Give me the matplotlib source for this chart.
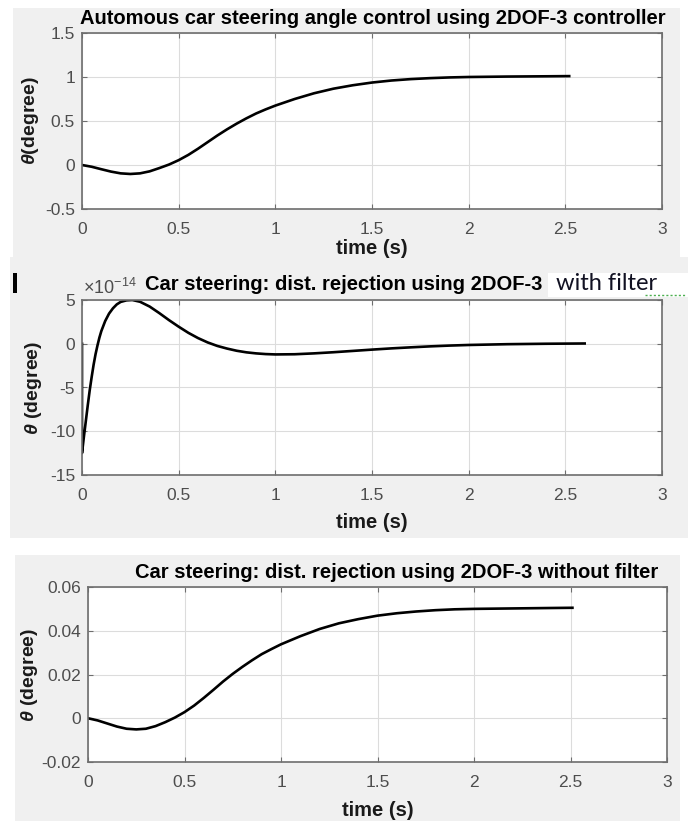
import matplotlib
matplotlib.use("Agg")
import matplotlib.pyplot as plt
from matplotlib.patches import Rectangle
from matplotlib.lines import Line2D

plt.rcParams["font.family"] = ["Liberation Sans", "DejaVu Sans"]
plt.rcParams["mathtext.fontset"] = "custom"
plt.rcParams["mathtext.rm"] = "Liberation Sans"
plt.rcParams["mathtext.it"] = "Liberation Sans:italic:bold"
plt.rcParams["axes.unicode_minus"] = False

# ---- data ----
time_ticks = [0, 0.5, 1, 1.5, 2, 2.5, 3]
time_ticklabels = ["0", "0.5", "1", "1.5", "2", "2.5", "3"]

# panel 1: steering angle step response
t1 = [0, 0.05, 0.1, 0.15, 0.2, 0.25, 0.3, 0.35, 0.4, 0.45, 0.5, 0.55, 0.6, 0.65,
      0.7, 0.75, 0.8, 0.85, 0.9, 0.95, 1.0, 1.1, 1.2, 1.3, 1.4, 1.5, 1.6, 1.7, 1.8,
      1.9, 2.0, 2.2, 2.4, 2.52]
theta1 = [0, -0.02, -0.048, -0.075, -0.095, -0.102, -0.095, -0.072, -0.035, 0.005,
          0.055, 0.115, 0.185, 0.26, 0.335, 0.405, 0.47, 0.53, 0.585, 0.632, 0.675,
          0.75, 0.815, 0.867, 0.906, 0.937, 0.96, 0.976, 0.987, 0.995, 1.0, 1.005,
          1.008, 1.01]
y1_ticks = [-0.5, 0, 0.5, 1, 1.5]
y1_ticklabels = ["-0.5", "0", "0.5", "1", "1.5"]

# panel 2: disturbance rejection with filter (units of 1e-14)
t2 = [0, 0, 0.01, 0.02, 0.03, 0.04, 0.05, 0.06, 0.07, 0.08, 0.09, 0.1, 0.12, 0.14,
      0.16, 0.18, 0.2, 0.23, 0.26, 0.3, 0.35, 0.4, 0.45, 0.5, 0.55, 0.6, 0.65, 0.7,
      0.75, 0.8, 0.85, 0.9, 0.95, 1.0, 1.1, 1.2, 1.3, 1.4, 1.5, 1.6, 1.7, 1.8, 1.9,
      2.0, 2.2, 2.4, 2.6]
theta2 = [0, -12.5, -10.6, -8.8, -7.0, -5.3, -3.8, -2.4, -1.2, -0.2, 0.7, 1.45, 2.6,
          3.45, 4.05, 4.5, 4.78, 4.96, 5.0, 4.8, 4.25, 3.5, 2.7, 1.95, 1.25, 0.65,
          0.15, -0.25, -0.55, -0.8, -0.98, -1.1, -1.18, -1.22, -1.2, -1.1, -0.97,
          -0.82, -0.67, -0.53, -0.41, -0.3, -0.21, -0.14, -0.05, 0.0, 0.03]
y2_ticks = [-15, -10, -5, 0, 5]
y2_ticklabels = ["-15", "-10", "-5", "0", "5"]

# panel 3: disturbance rejection without filter
t3 = [0, 0.05, 0.1, 0.15, 0.2, 0.25, 0.3, 0.35, 0.4, 0.45, 0.5, 0.55, 0.6, 0.65,
      0.7, 0.75, 0.8, 0.85, 0.9, 0.95, 1.0, 1.1, 1.2, 1.3, 1.4, 1.5, 1.6, 1.7, 1.8,
      1.9, 2.0, 2.2, 2.4, 2.51]
theta3 = [0.0, -0.001, -0.0024, -0.0038, -0.0048, -0.0051, -0.0048, -0.0036,
          -0.0018, 0.0003, 0.0028, 0.0058, 0.0093, 0.013, 0.0168, 0.0203, 0.0235,
          0.0265, 0.0293, 0.0316, 0.0338, 0.0375, 0.0408, 0.0434, 0.0453, 0.0469,
          0.048, 0.0488, 0.0494, 0.0498, 0.05, 0.0502, 0.0504, 0.0505]
y3_ticks = [-0.02, 0, 0.02, 0.04, 0.06]
y3_ticklabels = ["-0.02", "0", "0.02", "0.04", "0.06"]

W, H = 688, 821
GRAY = "#f0f0f0"
TICKC = "#4d4d4d"
TXTC = "#1a1a1a"

fig = plt.figure(figsize=(W / 100, H / 100), dpi=100)


def fx(x):
    return x / W


def fy(y):
    return 1 - y / H


def box(x0, y0, x1, y1, color=GRAY, z=-1):
    fig.patches.append(Rectangle((fx(x0), fy(y1)), (x1 - x0) / W, (y1 - y0) / H,
                                 transform=fig.transFigure, facecolor=color,
                                 edgecolor="none", zorder=z))


box(13, 8, 680, 257)
box(10, 257, 688, 538)
box(15, 555, 680, 821)


def make_axes(left, top, right, bottom, t, y, yticks, yticklabels):
    ax = fig.add_axes([fx(left), fy(bottom), (right - left) / W, (bottom - top) / H])
    ax.plot(t, y, color="black", lw=1.9, solid_joinstyle="round")
    ax.set_xlim(0, 3)
    ax.set_ylim(yticks[0], yticks[-1])
    ax.set_xticks(time_ticks)
    ax.set_xticklabels(time_ticklabels)
    ax.set_yticks(yticks)
    ax.set_yticklabels(yticklabels)
    ax.grid(True, color="#dcdcdc", lw=0.8)
    ax.set_axisbelow(True)
    for s in ax.spines.values():
        s.set_color("#6e6e6e")
        s.set_linewidth(1.2)
    ax.tick_params(direction="in", length=3.5, width=0.8, color="#6e6e6e",
                   top=True, right=True, labelsize=12.5, labelcolor=TICKC)
    ax.tick_params(axis="x", pad=9)
    ax.tick_params(axis="y", pad=5)
    return ax


ax1 = make_axes(82, 33, 662, 209, t1, theta1, y1_ticks, y1_ticklabels)
ax2 = make_axes(82, 300, 662, 475, t2, theta2, y2_ticks, y2_ticklabels)
ax3 = make_axes(88, 587, 667, 762, t3, theta3, y3_ticks, y3_ticklabels)

# titles
fig.text(fx(373), fy(18), "Automous car steering angle control using 2DOF-3 controller",
         ha="center", va="center", fontsize=14.5, fontweight="bold", color="black")
fig.text(fx(145), fy(285), "Car steering: dist. rejection using 2DOF-3",
         ha="left", va="center", fontsize=14.5, fontweight="bold", color="black")
fig.text(fx(83), fy(288), r"$\times10^{-14}$", ha="left", va="center",
         fontsize=13, color=TICKC)
fig.text(fx(397), fy(572), "Car steering: dist. rejection using 2DOF-3 without filter",
         ha="center", va="center", fontsize=14.5, fontweight="bold", color="black")

# pasted "with filter" patch
box(548, 273, 688, 297, color="white", z=2)
fig.text(fx(556), fy(284), "with filter", ha="left", va="center", fontsize=17,
         family=["Lato", "DejaVu Sans"], color="#111122", zorder=3)
fig.lines.append(Line2D([fx(645), fx(686)], [fy(295), fy(295)], transform=fig.transFigure,
                        color="#4caf50", lw=1.0, ls=(0, (1.5, 1.5)), zorder=3))
box(13, 273, 17, 293, color="black", z=2)

# axis labels
fig.text(fx(372), fy(249), "time (s)", ha="center", va="center", fontsize=14.5,
         fontweight="bold", color=TXTC)
fig.text(fx(372), fy(523), "time (s)", ha="center", va="center", fontsize=14.5,
         fontweight="bold", color=TXTC)
fig.text(fx(378), fy(810), "time (s)", ha="center", va="center", fontsize=14.5,
         fontweight="bold", color=TXTC)
fig.text(fx(31), fy(121), r"$\theta$(degree)", ha="center", va="center", rotation=90,
         fontsize=14, fontweight="bold", color=TXTC)
fig.text(fx(33), fy(388), r"$\theta$ (degree)", ha="center", va="center", rotation=90,
         fontsize=14, fontweight="bold", color=TXTC)
fig.text(fx(29), fy(675), r"$\theta$ (degree)", ha="center", va="center", rotation=90,
         fontsize=14, fontweight="bold", color=TXTC)

fig.savefig("out.png", dpi=100, facecolor="white")
